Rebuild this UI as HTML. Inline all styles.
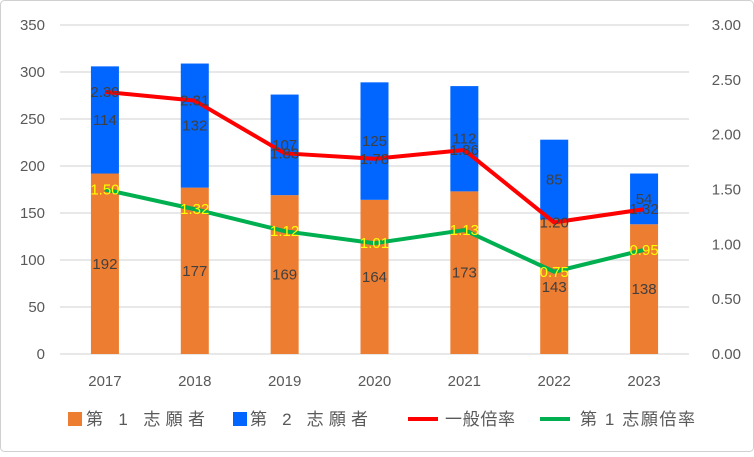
<!DOCTYPE html>
<html><head><meta charset="utf-8"><style>
body{margin:0;background:#fff}
svg{font-family:"Liberation Sans","Noto Sans CJK JP",sans-serif}
</style></head><body>
<svg id="c" width="754" height="452">
<rect x="0.5" y="0.5" width="753" height="451" rx="4" fill="#fff" stroke="#d0d0d0"/>
<g id="grid"></g><g id="bars"></g><g id="lines"></g><g id="labels"></g><g id="axes"></g>
<g id="legend"></g>
</svg>
<script>
const categories=["2017","2018","2019","2020","2021","2022","2023"];
const first=[192,177,169,164,173,143,138];
const second=[114,132,107,125,112,85,54];
const generalRatio=[2.39,2.31,1.83,1.78,1.86,1.20,1.32];
const firstRatio=[1.50,1.32,1.12,1.01,1.13,0.75,0.95];
const leftTicks=[0,50,100,150,200,250,300,350];
const rightTicks=["0.00","0.50","1.00","1.50","2.00","2.50","3.00"];
const NS="http://www.w3.org/2000/svg";
const L=60,R=689,T=25,B=354,step=(R-L)/categories.length,bw=28;
const x=i=>L+step*(i+0.5);
const yL=v=>B-(v/350)*(B-T);
const yR=v=>B-(v/3)*(B-T);
function mk(p,tag,a,txt){const e=document.createElementNS(NS,tag);for(const k in a)e.setAttribute(k,a[k]);if(txt!=null)e.textContent=txt;document.getElementById(p).appendChild(e);return e;}
leftTicks.forEach(v=>{let g=mk("grid","line",{x1:L,x2:R,y1:yL(v),y2:yL(v),stroke:"#d9d9d9","stroke-width":1.3});


let t=mk("axes","text",{x:45,y:yL(v)+5,"text-anchor":"end","font-size":15,fill:"#595959"},v);

});
rightTicks.forEach(s=>{let t=mk("axes","text",{x:741,y:yR(+s)+5,"text-anchor":"end","font-size":15,fill:"#595959"},s);

});
categories.forEach((c,i)=>{let t=mk("axes","text",{x:x(i),y:386,"text-anchor":"middle","font-size":15,fill:"#595959"},c);


let b1=mk("bars","rect",{x:x(i)-bw/2,y:yL(first[i]),width:bw,height:B-yL(first[i]),fill:"#ed7d31"});


let b2=mk("bars","rect",{x:x(i)-bw/2,y:yL(first[i]+second[i]),width:bw,height:yL(first[i])-yL(first[i]+second[i]),fill:"#0066ff"});

});
function line(arr,col,name){let p=mk("lines","polyline",{points:arr.map((v,i)=>x(i)+","+yR(v)).join(" "),fill:"none",stroke:col,"stroke-width":4,"stroke-linejoin":"round"});

}
line(generalRatio,"#ff0000","general-ratio-line");
line(firstRatio,"#00b050","first-choice-ratio-line");
categories.forEach((c,i)=>{
let a=mk("labels","text",{x:x(i),y:(yL(0)+yL(first[i]))/2+5,"text-anchor":"middle","font-size":15,fill:"#404040"},first[i]);


let b=mk("labels","text",{x:x(i),y:(yL(first[i])+yL(first[i]+second[i]))/2+5,"text-anchor":"middle","font-size":15,fill:"#404040"},second[i]);


let g=mk("labels","text",{x:x(i),y:yR(generalRatio[i])+5,"text-anchor":"middle","font-size":15,fill:"#404040"},generalRatio[i].toFixed(2));


let f=mk("labels","text",{x:x(i),y:yR(firstRatio[i])+5,"text-anchor":"middle","font-size":15,fill:"#ffff00"},firstRatio[i].toFixed(2));

});
const leg=[["第 1 志願者","#ed7d31","rect",68,86,119],["第 2 志願者","#0066ff","rect",233,250,118],["一般倍率","#ff0000","line",408,445,70],["第 1 志願倍率","#00b050","line",540,580,115]];
leg.forEach(([t,c,k,lx,tx0,tw])=>{let s=k=="rect"?mk("legend","rect",{x:lx,y:412,width:14,height:14,fill:c}):mk("legend","line",{x1:lx,x2:lx+30,y1:419,y2:419,stroke:c,"stroke-width":4});


let tx=mk("legend","text",{x:tx0,y:425,"font-size":17,fill:"#595959",textLength:tw,lengthAdjust:"spacing"},t);

});
</script>
</body></html>
